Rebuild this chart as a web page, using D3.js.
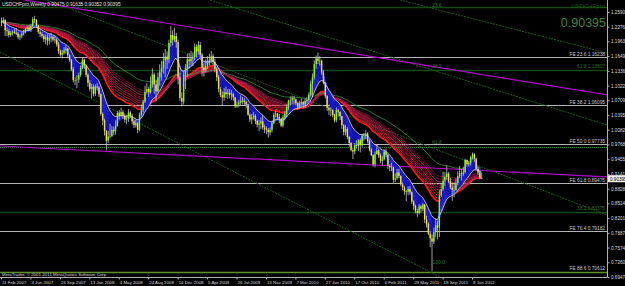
<!DOCTYPE html>
<html>
<head>
<meta charset="utf-8">
<script src="https://cdn.jsdelivr.net/npm/d3@7"></script>
<style>
  body { margin: 0; background: #000; }
  svg { display: block; }
  text { font-family: "Liberation Sans", "DejaVu Sans", sans-serif; }
</style>
</head>
<body>
<svg width="625" height="286"></svg>
<script>

// weekly USDCHF bars, first week starts 11 Feb 2007
var firstWeek = "2007-02-11";
var firstOpen = 1.2350;

var closes = [
  1.2380,1.2420,1.2200, 1.2180,1.2100,1.2150,1.2160, 1.2150,1.2130,1.2050,1.2070,1.2120, 1.2160,1.2230,1.2260,1.2210, 1.2290,1.2440,1.2420,1.2300, 1.2160,1.2120,1.2080,1.2010,1.2050, 1.1980,1.2030,1.2060,1.2000, 1.2000,1.1900,1.1760,1.1680,1.1720, 1.1770,1.1810,1.1670,1.1570, 1.1370,1.1140,1.1140,1.1150, 1.1250,1.1400,1.1580,1.1450,1.1250,
  1.1080,1.0950,1.1000,1.0850, 1.1000,1.0980,1.0840,1.0420, 1.0280,1.0050,0.9850,0.9940,0.9950, 1.0080,1.0050,1.0160,1.0440, 1.0380,1.0460,1.0380,1.0300, 1.0320,1.0450,1.0380,1.0260,1.0180, 1.0220,1.0080,1.0400,1.0500, 1.0680,1.0890,1.0950,1.0880,1.1050, 1.1260,1.1050,1.0900,1.1200, 1.1320,1.1400,1.1550,1.1640, 1.1580,1.1930,1.2100,1.2000,1.2080, 1.1950,1.1200,1.0760,1.0680,
  1.1250,1.1400,1.1580,1.1540, 1.1600,1.1630,1.1850,1.1750, 1.1890,1.1680,1.1400,1.1350,1.1440, 1.1500,1.1570,1.1650,1.1530, 1.1380,1.1200,1.0950,1.0820,1.0770, 1.0880,1.0840,1.0870,1.0830, 1.0840,1.0770,1.0580,1.0620, 1.0660,1.0700,1.0700,1.0670,1.0620, 1.0400,1.0300,1.0350,1.0380, 1.0270,1.0190,1.0220,1.0260, 1.0130,1.0090,1.0080,1.0030,1.0080, 1.0230,1.0400,1.0430,1.0360,
  1.0320,1.0170,1.0350,1.0420,1.0570, 1.0700,1.0720,1.0750,1.0730, 1.0650,1.0560,1.0650,1.0670, 1.0620,1.0700,1.0720,1.0820, 1.1060,1.1200,1.1480,1.1600,1.1550, 1.1550,1.1300,1.1080,1.0800, 1.0550,1.0500,1.0500,1.0400, 1.0280,1.0500,1.0470,1.0370,1.0180, 1.0030,1.0100,0.9930,0.9800, 0.9650,0.9620,0.9760,0.9740,0.9860, 0.9760,0.9960,0.9960,1.0000, 0.9840,0.9660,0.9540,0.9350,
  0.9560,0.9640,0.9540,0.9420,0.9450, 0.9620,0.9550,0.9310,0.9280, 0.9280,0.9020,0.9050,0.9170, 0.9100,0.8920,0.8850,0.8770, 0.8760,0.8820,0.8750,0.8550,0.8460, 0.8350,0.8310,0.8450,0.8400, 0.8490,0.8170,0.8080,0.7870,0.7770, 0.7700,0.7900,0.8050,0.8000, 0.8680,0.8820,0.9000,0.9080, 0.9150,0.8980,0.8850,0.8800,0.8800, 0.8950,0.9100,0.9160,0.9150, 0.9180,0.9440,0.9350,0.9380,
  0.9500,0.9560,0.9470,0.9250,0.9170, 0.9047,0.90395
];

var highs = [
  1.2470,1.2480,1.2440, 1.2260,1.2230,1.2190,1.2200, 1.2230,1.2250,1.2160,1.2110,1.2160, 1.2210,1.2260,1.2300,1.2320, 1.2340,1.2480,1.2510,1.2440, 1.2320,1.2200,1.2160,1.2120,1.2110, 1.2120,1.2120,1.2150,1.2080, 1.2080,1.2040,1.1950,1.1790,1.1780, 1.1840,1.1880,1.1830,1.1690, 1.1590,1.1420,1.1200,1.1240, 1.1300,1.1450,1.1610,1.1600,1.1470,
  1.1280,1.1140,1.1060,1.1050, 1.1050,1.1080,1.1010,1.0860, 1.0450,1.0320,1.0080,1.0060,1.0210, 1.0160,1.0150,1.0280,1.0480, 1.0500,1.0550,1.0500,1.0430, 1.0400,1.0520,1.0480,1.0420,1.0300, 1.0300,1.0250,1.0450,1.0620, 1.0720,1.1020,1.1070,1.1000,1.1220, 1.1390,1.1300,1.1150,1.1300, 1.1480,1.1550,1.1720,1.1800, 1.1750,1.2000,1.2290,1.2200,1.2260, 1.2150,1.2000,1.1300,1.0880,
  1.1340,1.1480,1.1700,1.1720, 1.1760,1.1730,1.1920,1.1900, 1.1970,1.1950,1.1720,1.1500,1.1580, 1.1650,1.1700,1.1760,1.1700, 1.1600,1.1420,1.1250,1.0990,1.0900, 1.0970,1.1000,1.0950,1.0950, 1.0930,1.0870,1.0780,1.0680, 1.0720,1.0820,1.0780,1.0760,1.0700, 1.0630,1.0430,1.0420,1.0460, 1.0420,1.0300,1.0290,1.0350, 1.0400,1.0190,1.0150,1.0120,1.0130, 1.0280,1.0450,1.0480,1.0440,
  1.0420,1.0330,1.0400,1.0480,1.0620, 1.0720,1.0790,1.0810,1.0800, 1.0750,1.0680,1.0700,1.0750, 1.0700,1.0750,1.0770,1.0880, 1.1130,1.1280,1.1560,1.1660,1.1730, 1.1650,1.1580,1.1350,1.1100, 1.0820,1.0620,1.0560,1.0520, 1.0420,1.0560,1.0530,1.0460,1.0380, 1.0200,1.0180,1.0140,0.9950, 0.9820,0.9690,0.9800,0.9860,0.9880, 0.9900,1.0000,1.0010,1.0070, 1.0030,0.9880,0.9700,0.9560,
  0.9620,0.9780,0.9680,0.9580,0.9520, 0.9660,0.9680,0.9560,0.9350, 0.9380,0.9300,0.9150,0.9250, 0.9250,0.9110,0.8960,0.8880, 0.8800,0.8880,0.8880,0.8770,0.8580, 0.8490,0.8400,0.8500,0.8480, 0.8520,0.8500,0.8250,0.8110,0.7930, 0.7850,0.8000,0.8190,0.8150, 0.8800,0.8930,0.9190,0.9180, 0.9320,0.9180,0.9060,0.8960,0.8950, 0.9050,0.9200,0.9310,0.9250, 0.9300,0.9470,0.9450,0.9420,
  0.9530,0.9600,0.9590,0.9490,0.9300, 0.9230,0.91635
];

var lows = [
  1.2290,1.2340,1.2080, 1.2080,1.2050,1.2060,1.2090, 1.2120,1.2100,1.2010,1.1990,1.2030, 1.2090,1.2140,1.2200,1.2180, 1.2160,1.2260,1.2360,1.2260, 1.2130,1.2060,1.2030,1.1950,1.1900, 1.1880,1.1900,1.1950,1.1960, 1.1920,1.1850,1.1700,1.1640,1.1600, 1.1680,1.1700,1.1600,1.1530, 1.1330,1.1090,1.1030,1.0970, 1.1080,1.1210,1.1370,1.1380,1.1200,
  1.1000,1.0900,1.0750,1.0790, 1.0800,1.0920,1.0780,1.0380, 1.0180,0.9960,0.9640,0.9800,0.9900, 0.9930,0.9970,0.9980,1.0150, 1.0300,1.0350,1.0320,1.0230, 1.0200,1.0250,1.0330,1.0200,1.0120, 1.0130,1.0010,1.0050,1.0380, 1.0450,1.0650,1.0850,1.0780,1.0850, 1.0980,1.0850,1.0690,1.0880, 1.1020,1.1130,1.1280,1.1200, 1.1380,1.1500,1.1850,1.1880,1.1950, 1.1830,1.1050,1.0700,1.0580,
  1.0620,1.0950,1.1200,1.1380, 1.1450,1.1440,1.1560,1.1620, 1.1680,1.1600,1.1220,1.1220,1.1300, 1.1380,1.1450,1.1500,1.1450, 1.1300,1.1120,1.0880,1.0780,1.0610, 1.0700,1.0760,1.0740,1.0750, 1.0720,1.0700,1.0540,1.0550, 1.0560,1.0600,1.0620,1.0590,1.0540, 1.0380,1.0250,1.0200,1.0300, 1.0200,1.0130,1.0050,1.0100, 1.0080,1.0010,0.9990,0.9920,0.9960, 1.0020,1.0200,1.0350,1.0300,
  1.0220,1.0140,1.0130,1.0280,1.0350, 1.0500,1.0600,1.0620,1.0620, 1.0600,1.0510,1.0520,1.0580, 1.0540,1.0550,1.0640,1.0680, 1.0790,1.0800,1.1150,1.1380,1.1480, 1.1450,1.1250,1.1050,1.0750, 1.0480,1.0400,1.0370,1.0350, 1.0240,1.0240,1.0360,1.0290,1.0100, 0.9960,0.9960,0.9880,0.9720, 0.9620,0.9460,0.9560,0.9680,0.9630, 0.9600,0.9720,0.9850,0.9880, 0.9790,0.9620,0.9520,0.9300,
  0.9280,0.9560,0.9480,0.9370,0.9320, 0.9430,0.9500,0.9250,0.9200, 0.9200,0.8950,0.8970,0.9020, 0.9050,0.8880,0.8800,0.8700, 0.8560,0.8690,0.8700,0.8500,0.8380, 0.8300,0.8230,0.8280,0.8320, 0.8350,0.8100,0.8000,0.7840,0.7580, 0.7067,0.7650,0.7800,0.7750, 0.7800,0.8650,0.8780,0.8880, 0.9020,0.8940,0.8820,0.8570,0.8640, 0.8790,0.8900,0.9050,0.9000, 0.9100,0.9150,0.9300,0.9300,
  0.9320,0.9450,0.9400,0.9230,0.9120, 0.9020,0.90352
];

// axis labels as printed
var dateLabels = ["11 Feb 2007","3 Jun 2007","23 Sep 2007","13 Jan 2008","4 May 2008","24 Aug 2008",
  "14 Dec 2008","5 Apr 2009","26 Jul 2009","15 Nov 2009","7 Mar 2010","27 Jun 2010","17 Oct 2010",
  "6 Feb 2011","29 May 2011","18 Sep 2011","8 Jan 2012"];
var priceTicks = [1.25900,1.22765,1.19630,1.16495,1.13360,1.10225,1.07090,1.03955,1.00820,
  0.97685,0.94550,0.91415,0.88280,0.85145,0.82010,0.78875,0.75740,0.72605,0.69470];

// fibo expansion levels (gray) and the other horizontal objects
var feLevels = [
  {name: "FE 23.6", price: 1.16238},
  {name: "FE 38.2", price: 1.06095},
  {name: "FE 50.0", price: 0.97735},
  {name: "FE 61.8", price: 0.89475},
  {name: "FE 76.4", price: 0.79182},
  {name: "FE 88.6", price: 0.70612}
];
var greenLevels = [
  {name: "", price: 1.2697},
  {name: "61.8 1.13607", price: 1.1361},
  {name: "38.2 0.83375", price: 0.8338}
];
var dottedLevel = 0.9716;

// trendlines [date1, price1, date2, price2]
var fanLines = [
  ["2007-02-07", 1.1738, "2011-09-08", 0.6947],
  ["2007-08-05", 1.2846, "2013-06-05", 0.8267],
  ["2009-04-16", 1.2846, "2013-06-05", 1.0184],
  ["2011-04-09", 1.2846, "2013-06-05", 1.1717]
];
var fanLabels = [["2011-08-10", 1.2700, "23.6"], ["2011-08-10", 1.1400, "38.2"],
  ["2011-08-10", 0.9780, "61.8"], ["2011-08-12", 0.7230, "100.0"]];
var purpleLines = [
  ["2007-02-07", 1.2931, "2013-06-05", 1.0823],
  ["2007-02-07", 0.9737, "2013-06-05", 0.9077]
];

var blueEmas = [3, 4, 5, 6, 7, 8, 9, 10, 11, 12];
var whiteEma = 14;
var redEmas = [30, 33, 36, 39, 42, 45, 48, 52, 56, 60];
var greenEma = 80;

var W = 625, H = 286, plotR = 607, plotB = 277;
var svg = d3.select("svg");
var parse = d3.timeParse("%Y-%m-%d");
var parseLabel = d3.timeParse("%d %b %Y");
var t0 = parse(firstWeek);

var bars = closes.map(function(c, i) {
  return {date: d3.timeDay.offset(t0, 7 * i), open: i ? closes[i - 1] : firstOpen,
          close: c, high: highs[i], low: lows[i]};
});

var x = d3.scaleTime()
  .domain([parseLabel(dateLabels[0]), parseLabel(dateLabels[dateLabels.length - 1])])
  .range([1, 472]);
var y = d3.scaleLinear()
  .domain([priceTicks[priceTicks.length - 1], priceTicks[0]])
  .range([plotB, 12]);

svg.append("rect").attr("width", W).attr("height", H).attr("fill", "#000");

svg.append("clipPath").attr("id", "plot")
  .append("rect").attr("x", 0).attr("y", 0).attr("width", plotR).attr("height", plotB);

var g = svg.append("g").attr("clip-path", "url(#plot)");

function ema(vals, n) {
  var k = 2 / (n + 1), e = vals[0];
  return vals.map(function(v, i) { e = i ? v * k + e * (1 - k) : v; return e; });
}

var line = d3.line()
  .x(function(d, i) { return x(bars[i].date); })
  .y(function(d) { return y(d); });

// horizontal objects
g.selectAll(".fe").data(feLevels).enter().append("line")
  .attr("x1", 0).attr("x2", plotR)
  .attr("y1", function(d) { return Math.round(y(d.price)) + 0.5; })
  .attr("y2", function(d) { return Math.round(y(d.price)) + 0.5; })
  .attr("stroke", function(d, i) { return i == 5 ? "#5b8f2a" : "#b4b4b4"; })
  .attr("stroke-width", function(d, i) { return i == 5 ? 1.6 : 1; });

g.selectAll(".gl").data(greenLevels).enter().append("line")
  .attr("x1", 0).attr("x2", plotR)
  .attr("y1", function(d) { return Math.round(y(d.price)) + 0.5; })
  .attr("y2", function(d) { return Math.round(y(d.price)) + 0.5; })
  .attr("stroke", "#134a13").attr("stroke-width", 1.5);

g.append("line")
  .attr("x1", 0).attr("x2", plotR)
  .attr("y1", Math.round(y(dottedLevel)) + 0.5).attr("y2", Math.round(y(dottedLevel)) + 0.5)
  .attr("stroke", "#2f7a2f").attr("stroke-dasharray", "1,1");

// diagonal objects
g.selectAll(".fan").data(fanLines).enter().append("line")
  .attr("x1", function(d) { return x(parse(d[0])); })
  .attr("y1", function(d) { return y(d[1]); })
  .attr("x2", function(d) { return x(parse(d[2])); })
  .attr("y2", function(d) { return y(d[3]); })
  .attr("stroke", "#1f5a1f").attr("stroke-width", 1).attr("stroke-dasharray", "2,1");

g.selectAll(".purple").data(purpleLines).enter().append("line")
  .attr("x1", function(d) { return x(parse(d[0])); })
  .attr("y1", function(d) { return y(d[1]); })
  .attr("x2", function(d) { return x(parse(d[2])); })
  .attr("y2", function(d) { return y(d[3]); })
  .attr("stroke", "#b000c8").attr("stroke-width", 1.2);

// long group (red) and slow green
var redColor = d3.scaleLinear().domain([0, redEmas.length - 1]).range(["#ff1a1a", "#8a1040"]);
redEmas.forEach(function(n, i) {
  g.append("path").datum(ema(closes, n)).attr("d", line)
    .attr("fill", "none").attr("stroke", i % 3 == 1 ? "#d0306a" : redColor(i))
    .attr("stroke-width", i == 0 ? 1.6 : 0.8);
});
g.append("path").datum(ema(closes, greenEma)).attr("d", line)
  .attr("fill", "none").attr("stroke", "#3f8f3f").attr("stroke-width", 0.8);

// short group (blue) filled
var fast = ema(closes, blueEmas[0]), slow = ema(closes, whiteEma);
g.append("path").datum(fast)
  .attr("d", d3.area()
    .x(function(d, i) { return x(bars[i].date); })
    .y0(function(d, i) { return y(slow[i]); })
    .y1(function(d) { return y(d); }))
  .attr("fill", "#07078a");
blueEmas.forEach(function(n, i) {
  g.append("path").datum(ema(closes, n)).attr("d", line)
    .attr("fill", "none").attr("stroke", i % 2 ? "#1c1cd8" : "#3030ff").attr("stroke-width", 0.6);
});
g.append("path").datum(slow).attr("d", line)
  .attr("fill", "none").attr("stroke", "#e8e8e8").attr("stroke-width", 0.8);

// candles
g.selectAll(".wick").data(bars).enter().append("line")
  .attr("x1", function(d) { return x(d.date) + 0.5; })
  .attr("x2", function(d) { return x(d.date) + 0.5; })
  .attr("y1", function(d) { return y(d.high); })
  .attr("y2", function(d) { return y(d.low); })
  .attr("stroke", "#c8c8c8").attr("stroke-width", 0.8);
g.selectAll(".body").data(bars).enter().append("rect")
  .attr("x", function(d) { return x(d.date) - 0.2; })
  .attr("width", 1.4)
  .attr("y", function(d) { return y(Math.max(d.open, d.close)); })
  .attr("height", function(d) { return Math.max(0.6, Math.abs(y(d.open) - y(d.close))); })
  .attr("fill", function(d) { return d.close >= d.open ? "#7cfc00" : "#f0e040"; });

// labels on the chart
g.selectAll(".fel").data(feLevels).enter().append("text")
  .attr("x", plotR - 2).attr("y", function(d) { return y(d.price) - 1.5; })
  .attr("text-anchor", "end").attr("font-size", 4.8).attr("fill", "#c8c8c8")
  .text(function(d) { return d.name + " " + d3.format(".5f")(d.price); });
g.selectAll(".gll").data(greenLevels).enter().append("text")
  .attr("x", plotR - 2).attr("y", function(d) { return y(d.price) - 1.5; })
  .attr("text-anchor", "end").attr("font-size", 4.8).attr("fill", "#2f6f2f")
  .text(function(d) { return d.name; });
g.selectAll(".fanl").data(fanLabels).enter().append("text")
  .attr("x", function(d) { return x(parse(d[0])); }).attr("y", function(d) { return y(d[1]); })
  .attr("font-size", 4.8).attr("fill", "#2f7a2f")
  .text(function(d) { return d[2]; });

svg.append("text").attr("x", 2).attr("y", 6).attr("font-size", 4.8).attr("fill", "#e0e0e0")
  .text("USDCHFpro,Weekly  0.90475 0.91635 0.90352 0.90395");
svg.append("text").attr("x", 605).attr("y", 8).attr("text-anchor", "end")
  .attr("font-size", 6).attr("fill", "#1f5a1f").text("USDCHFpro");
svg.append("text").attr("x", 606).attr("y", 27).attr("text-anchor", "end")
  .attr("font-size", 12.5).attr("fill", "#3f7f3f").text(d3.format(".5f")(closes[closes.length - 1]));
svg.append("text").attr("x", 2).attr("y", 275.5).attr("font-size", 4.4).attr("fill", "#d0d0d0")
  .text("MetaTrader, \u00a9 2001-2011 MetaQuotes Software Corp.");

// frame and axes
svg.append("line").attr("x1", 0).attr("x2", plotR + 0.5).attr("y1", plotB + 0.5).attr("y2", plotB + 0.5)
  .attr("stroke", "#b0b0b0");
svg.append("line").attr("x1", plotR + 0.5).attr("x2", plotR + 0.5).attr("y1", 0).attr("y2", plotB + 0.5)
  .attr("stroke", "#b0b0b0");

// price labels run off the right edge in the original window too
var yAxis = svg.append("g").attr("transform", "translate(" + (plotR + 0.5) + ",0)")
  .call(d3.axisRight(y).tickValues(priceTicks).tickSize(2).tickFormat(d3.format(".5f")));
yAxis.select(".domain").remove();
yAxis.selectAll("line").attr("stroke", "#b0b0b0");
yAxis.selectAll("text").attr("fill", "#d8d8d8").attr("font-size", 4.6).attr("x", 3.5)
  .attr("font-family", "Liberation Sans, sans-serif");

var xAxis = svg.append("g").attr("transform", "translate(0," + (plotB + 0.5) + ")")
  .call(d3.axisBottom(x).tickValues(dateLabels.map(parseLabel)).tickSize(2)
    .tickFormat(function(d, i) { return dateLabels[i]; }));
xAxis.select(".domain").remove();
xAxis.selectAll("line").attr("stroke", "#b0b0b0");
xAxis.selectAll("text").attr("fill", "#d8d8d8").attr("font-size", 4.4).attr("text-anchor", "start")
  .attr("x", 0.5).attr("y", 3).attr("font-family", "Liberation Sans, sans-serif");

// current price box
var last = closes[closes.length - 1];
svg.append("rect").attr("x", plotR + 1).attr("y", y(last) - 3.5).attr("width", 18).attr("height", 7)
  .attr("fill", "#f0f0f0");
svg.append("text").attr("x", plotR + 3).attr("y", y(last) + 1.8).attr("font-size", 4.6).attr("fill", "#000")
  .text(d3.format(".5f")(last));
</script>
</body>
</html>
